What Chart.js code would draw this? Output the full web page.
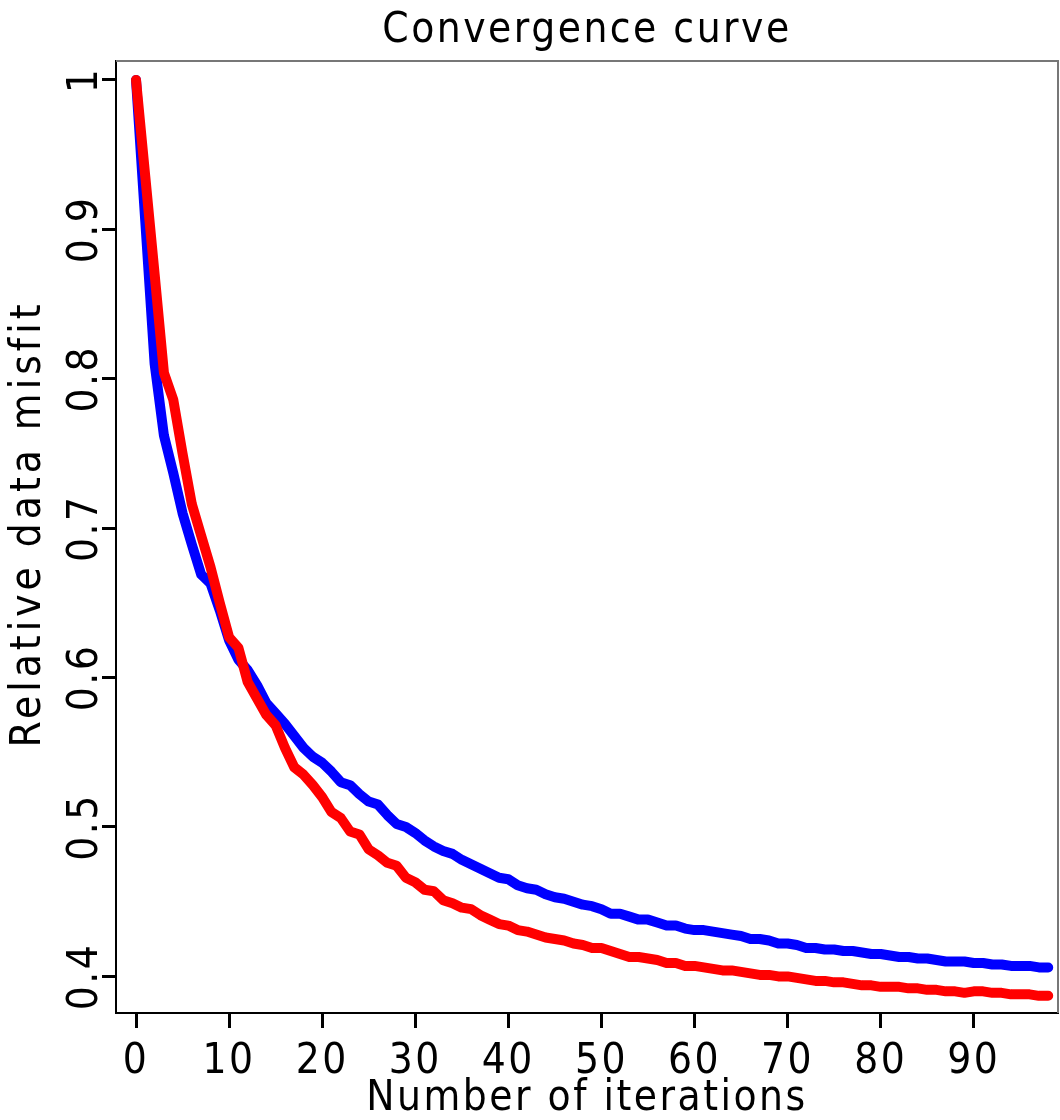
<!DOCTYPE html>
<html>
<head>
<meta charset="utf-8">
<script src="https://cdn.jsdelivr.net/npm/chart.js@4"></script>
<style>
  html, body { margin: 0; padding: 0; background: #fff; }
  #wrap { width: 1060px; height: 1120px; }
</style>
</head>
<body>
<div id="wrap"><canvas id="convChart" width="1060" height="1120"></canvas></div>
<script>
// iteration numbers (x)
const iterations = [
  0, 1, 2, 3, 4, 5, 6, 7, 8, 9, 10, 11, 12, 13, 14, 15, 16, 17, 18, 19,
  20, 21, 22, 23, 24, 25, 26, 27, 28, 29, 30, 31, 32, 33, 34, 35, 36, 37, 38, 39,
  40, 41, 42, 43, 44, 45, 46, 47, 48, 49, 50, 51, 52, 53, 54, 55, 56, 57, 58, 59,
  60, 61, 62, 63, 64, 65, 66, 67, 68, 69, 70, 71, 72, 73, 74, 75, 76, 77, 78, 79,
  80, 81, 82, 83, 84, 85, 86, 87, 88, 89, 90, 91, 92, 93, 94, 95, 96, 97, 98
];

// blue curve
const blueMisfit = [
  1.000, 0.905, 0.810, 0.762, 0.737, 0.710, 0.689, 0.669, 0.663, 0.645,
  0.625, 0.612, 0.605, 0.595, 0.583, 0.576, 0.569, 0.561, 0.553, 0.547,
  0.543, 0.537, 0.530, 0.528, 0.522, 0.517, 0.515, 0.508, 0.502, 0.500,
  0.496, 0.491, 0.487, 0.484, 0.482, 0.478, 0.475, 0.472, 0.469, 0.466,
  0.465, 0.461, 0.459, 0.458, 0.455, 0.453, 0.452, 0.450, 0.448, 0.447,
  0.445, 0.442, 0.442, 0.440, 0.438, 0.438, 0.436, 0.434, 0.434, 0.432,
  0.431, 0.431, 0.430, 0.429, 0.428, 0.427, 0.425, 0.425, 0.424, 0.422,
  0.422, 0.421, 0.419, 0.419, 0.418, 0.418, 0.417, 0.417, 0.416, 0.415,
  0.415, 0.414, 0.413, 0.413, 0.412, 0.412, 0.411, 0.410, 0.410, 0.410,
  0.409, 0.409, 0.408, 0.408, 0.407, 0.407, 0.407, 0.406, 0.406
];

// red curve
const redMisfit = [
  1.000, 0.935, 0.870, 0.804, 0.786, 0.750, 0.716, 0.695, 0.674, 0.650,
  0.627, 0.620, 0.597, 0.586, 0.575, 0.568, 0.553, 0.540, 0.535, 0.528,
  0.520, 0.510, 0.506, 0.497, 0.495, 0.485, 0.481, 0.476, 0.474, 0.466,
  0.463, 0.458, 0.457, 0.451, 0.449, 0.446, 0.445, 0.441, 0.438, 0.435,
  0.434, 0.431, 0.430, 0.428, 0.426, 0.425, 0.424, 0.422, 0.421, 0.419,
  0.419, 0.417, 0.415, 0.413, 0.413, 0.412, 0.411, 0.409, 0.409, 0.407,
  0.407, 0.406, 0.405, 0.404, 0.404, 0.403, 0.402, 0.401, 0.401, 0.400,
  0.400, 0.399, 0.398, 0.397, 0.397, 0.396, 0.396, 0.395, 0.394, 0.394,
  0.393, 0.393, 0.393, 0.392, 0.392, 0.391, 0.391, 0.390, 0.390, 0.389,
  0.390, 0.390, 0.389, 0.389, 0.388, 0.388, 0.388, 0.387, 0.387
];

const xTicks = [0, 10, 20, 30, 40, 50, 60, 70, 80, 90];
const yTicks = [0.4, 0.5, 0.6, 0.7, 0.8, 0.9, 1];

const FONT = '"Liberation Sans Narrow", "DejaVu Sans Condensed", "Liberation Sans", sans-serif';
const SPACING = '2.5px';

const toPoints = vals => vals.map((v, i) => ({ x: iterations[i], y: v }));

// canvas state is reset on resize, so set letter spacing before layout and draw
const spacingPlugin = {
  id: 'spacing',
  beforeLayout(chart) { chart.ctx.letterSpacing = SPACING; },
  beforeDraw(chart) { chart.ctx.letterSpacing = SPACING; }
};

// top/right frame lines and the y axis title
const framePlugin = {
  id: 'frame',
  afterDraw(chart) {
    const { ctx, chartArea: a } = chart;
    ctx.save();
    ctx.strokeStyle = '#777';
    ctx.lineWidth = 2;
    ctx.beginPath();
    ctx.moveTo(a.left, a.top);
    ctx.lineTo(a.right, a.top);
    ctx.lineTo(a.right, a.bottom);
    ctx.stroke();

    ctx.fillStyle = '#000';
    ctx.font = '42px ' + FONT;
    ctx.letterSpacing = '4px';
    ctx.textAlign = 'center';
    ctx.textBaseline = 'middle';
    ctx.translate(29, 524);
    ctx.rotate(-Math.PI / 2);
    ctx.fillText('Relative data misfit', 0, 0);
    ctx.restore();
  }
};

new Chart(document.getElementById('convChart'), {
  type: 'line',
  data: {
    datasets: [
      {
        label: 'red',
        data: toPoints(redMisfit),
        borderColor: '#ff0000',
        borderWidth: 10,
        borderCapStyle: 'round',
        borderJoinStyle: 'round',
        pointRadius: 0,
        tension: 0
      },
      {
        label: 'blue',
        data: toPoints(blueMisfit),
        borderColor: '#0000ff',
        borderWidth: 10,
        borderCapStyle: 'round',
        borderJoinStyle: 'round',
        pointRadius: 0,
        tension: 0
      }
    ]
  },
  options: {
    responsive: false,
    animation: false,
    layout: { padding: { left: 0, right: 2, top: 0, bottom: 0 } },
    plugins: {
      legend: { display: false },
      tooltip: { enabled: false },
      title: {
        display: true,
        text: 'Convergence curve',
        fullSize: false,
        color: '#000',
        font: { family: FONT, size: 42, weight: 'normal' },
        padding: { top: 6, bottom: 4.6 }
      }
    },
    scales: {
      x: {
        type: 'linear',
        min: -2.15,
        max: 99.05,
        afterBuildTicks: s => { s.ticks = xTicks.map(v => ({ value: v })); },
        afterFit: s => { s.height = 107; },
        border: { display: true, color: '#000', width: 2 },
        grid: { drawOnChartArea: false, drawTicks: true, tickLength: 15, tickWidth: 3, tickColor: '#000' },
        ticks: {
          color: '#000',
          padding: 9,
          maxRotation: 0,
          font: { family: FONT, size: 42 }
        },
        title: {
          display: true,
          text: 'Number of iterations',
          color: '#000',
          font: { family: FONT, size: 42 },
          padding: { top: 0, bottom: -4 }
        }
      },
      y: {
        type: 'linear',
        min: 0.3755,
        max: 1.0127,
        afterBuildTicks: s => { s.ticks = yTicks.map(v => ({ value: v })); },
        afterFit: s => { s.width = 116; },
        border: { display: true, color: '#000', width: 2 },
        grid: { drawOnChartArea: false, drawTicks: true, tickLength: 14, tickWidth: 3, tickColor: '#000' },
        ticks: {
          color: '#000',
          padding: -18,
          crossAlign: 'center',
          minRotation: 90,
          maxRotation: 90,
          font: { family: FONT, size: 42 },
          callback: v => String(Math.round(v * 10) / 10)
        }
      }
    }
  },
  plugins: [spacingPlugin, framePlugin]
});
</script>
</body>
</html>
